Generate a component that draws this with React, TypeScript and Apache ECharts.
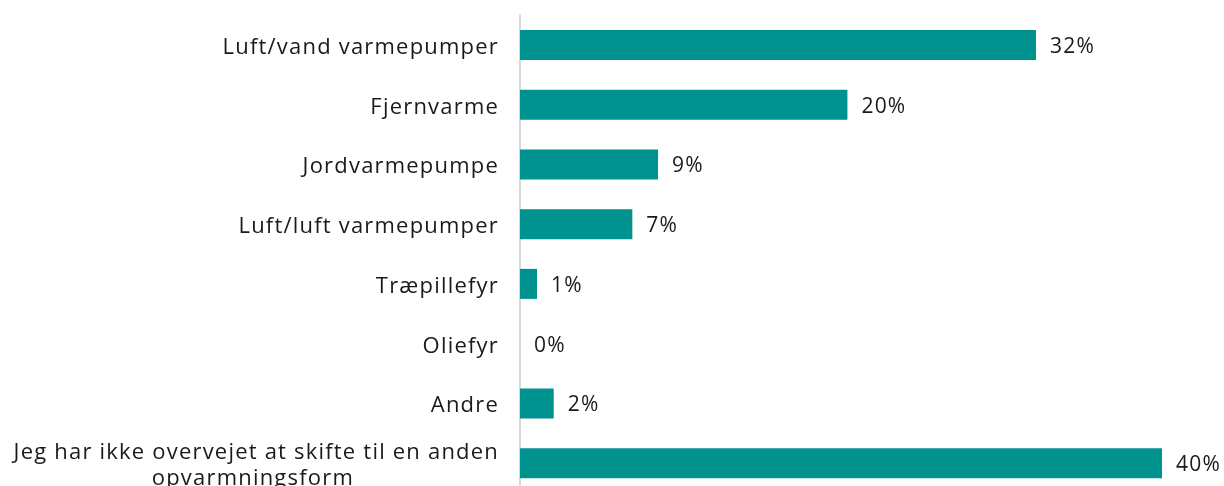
import React, { useEffect, useRef } from "react";
import * as echarts from "echarts";

const categories = [
  "Luft/vand varmepumper",
  "Fjernvarme",
  "Jordvarmepumpe",
  "Luft/luft varmepumper",
  "Træpillefyr",
  "Oliefyr",
  "Andre",
  "Jeg har ikke overvejet at skifte til en anden\nopvarmningsform",
];
const values = [32.15, 20.4, 8.6, 7.0, 1.06, 0.0, 2.1, 40.0];

export default function App() {
  const ref = useRef<HTMLDivElement>(null);
  useEffect(() => {
    const chart = echarts.init(ref.current!, undefined, { renderer: "svg" });
    const font = "'Open Sans', sans-serif";
    const textColor = "#1a1a1a";
    chart.setOption({
      animation: false,
      grid: { left: 520, top: 15, width: 642, height: 478, containLabel: false },
      xAxis: { type: "value", min: 0, max: 40, show: false },
      yAxis: {
        type: "category",
        inverse: true,
        data: categories,
        axisLine: { show: true, lineStyle: { color: "#d9d9d9", width: 2 } },
        axisTick: { show: false },
        axisLabel: {
          margin: 21,
          fontSize: 22,
          fontFamily: font,
          color: textColor,
          formatter: (v: string) => {
            if (!v.includes("\n")) return v;
            const [a, b] = v.split("\n");
            return `{a|${a}}\n{b|${b}}`;
          },
          rich: {
            a: { align: "right", fontSize: 22, fontFamily: font, color: textColor, lineHeight: 26 },
            b: { align: "right", fontSize: 22, fontFamily: font, color: textColor, lineHeight: 26, padding: [0, 145, 0, 0] },
          },
        },
      },
      series: [
        {
          type: "bar",
          data: values,
          barWidth: 30,
          itemStyle: { color: "#00928f" },
          label: {
            show: true,
            position: "right",
            distance: 14,
            fontSize: 21,
            fontFamily: font,
            color: textColor,
            formatter: (p: any) => `${Math.round(p.value)}%`,
          },
        },
      ],
    });
    return () => chart.dispose();
  }, []);
  return (
    <div
      ref={ref}
      style={{ position: "fixed", left: 0, top: 0, width: 1224, height: 500, letterSpacing: "1.2px" }}
    />
  );
}
